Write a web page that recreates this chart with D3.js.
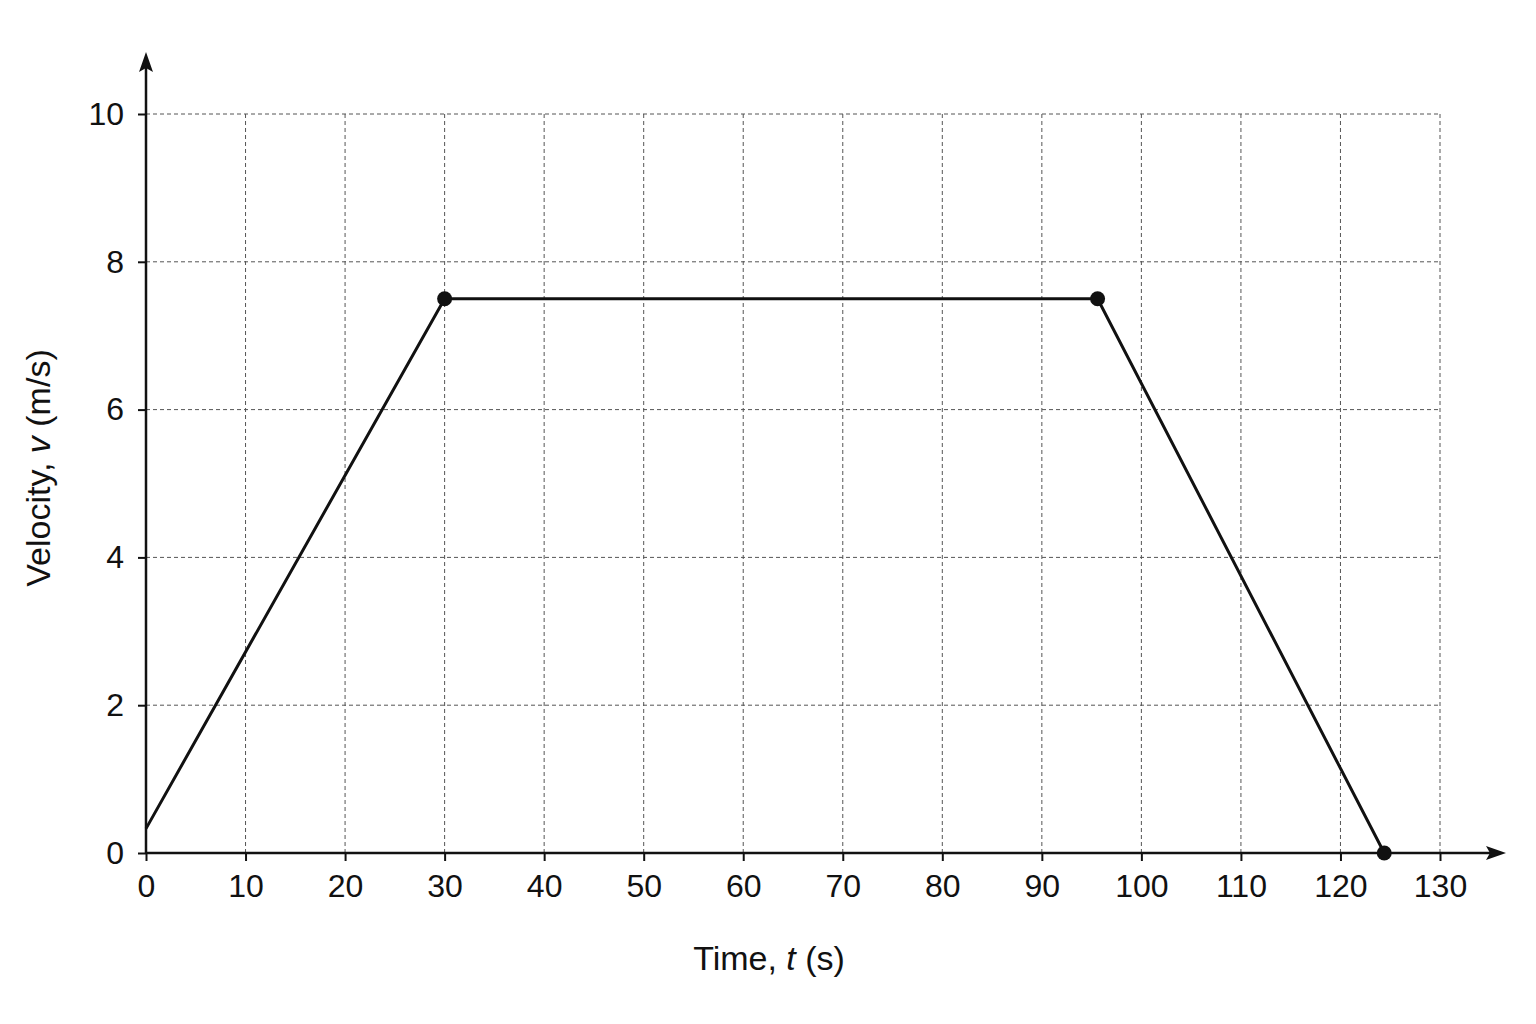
<!DOCTYPE html>
<html><head><meta charset="utf-8">
<script src="https://cdn.jsdelivr.net/npm/d3@7"></script>
<style>body{margin:0;background:#fff}</style></head>
<body><svg id="c" width="1536" height="1024"></svg>
<script>
const xTicks=[0,10,20,30,40,50,60,70,80,90,100,110,120,130];
const yTicks=[0,2,4,6,8,10];
const times=[0,30,95.6,124.4];
const velocities=[0.33,7.5,7.5,0];
const markerIdx=[1,2,3];

const svg=d3.select("#c");
const x=d3.scaleLinear().domain([0,130]).range([146,1440]);
const y=d3.scaleLinear().domain([0,10]).range([853,114]);
const font="Liberation Sans, Arial, sans-serif";

const g=svg.append("g");
g.selectAll(".vg").data(xTicks.slice(1)).join("line")
 .attr("x1",d=>x(d)).attr("x2",d=>x(d)).attr("y1",y(0)).attr("y2",y(10))
 .attr("stroke","#555").attr("stroke-width",1).attr("stroke-dasharray","4,3");
g.selectAll(".hg").data(yTicks.slice(1)).join("line")
 .attr("x1",x(0)).attr("x2",x(130)).attr("y1",d=>y(d)).attr("y2",d=>y(d))
 .attr("stroke","#555").attr("stroke-width",1).attr("stroke-dasharray","4,3");

const xa=svg.append("g").attr("transform",`translate(0,${y(0)})`)
 .call(d3.axisBottom(x).tickValues(xTicks).tickSize(8).tickPadding(10).tickSizeOuter(0));
xa.select(".domain").remove();
xa.selectAll("text").attr("font-size",32).attr("font-family",font).attr("fill","#111").attr("dy","0.8em");
xa.selectAll("line").attr("stroke","#111").attr("stroke-width",2);
const ya=svg.append("g").attr("transform",`translate(${x(0)},0)`)
 .call(d3.axisLeft(y).tickValues(yTicks).tickSize(8).tickPadding(14).tickSizeOuter(0));
ya.select(".domain").remove();
ya.selectAll("text").attr("font-size",32).attr("font-family",font).attr("fill","#111");
ya.selectAll("line").attr("stroke","#111").attr("stroke-width",2);

svg.append("line").attr("x1",x(0)).attr("x2",1495).attr("y1",y(0)).attr("y2",y(0)).attr("stroke","#111").attr("stroke-width",2.5);
svg.append("line").attr("x1",x(0)).attr("x2",x(0)).attr("y1",y(0)).attr("y2",62).attr("stroke","#111").attr("stroke-width",2.5);
svg.append("path").attr("d",`M1506,${y(0)} L1486,${y(0)-7} L1490,${y(0)} L1486,${y(0)+7}Z`).attr("fill","#111");
svg.append("path").attr("d",`M${x(0)},52 L${x(0)-7},72 L${x(0)},68 L${x(0)+7},72Z`).attr("fill","#111");

const pts=times.map((t,i)=>[t,velocities[i]]);
svg.append("path").datum(pts).attr("d",d3.line().x(d=>x(d[0])).y(d=>y(d[1])))
 .attr("fill","none").attr("stroke","#111").attr("stroke-width",3);
svg.selectAll(".pt").data(markerIdx.map(i=>pts[i])).join("circle")
 .attr("cx",d=>x(d[0])).attr("cy",d=>y(d[1])).attr("r",7.5).attr("fill","#111");

const xl=svg.append("text").attr("x",769).attr("y",970).attr("text-anchor","middle")
 .attr("font-size",34).attr("font-family",font).attr("fill","#111");
xl.append("tspan").text("Time, ");xl.append("tspan").attr("font-style","italic").text("t");xl.append("tspan").text(" (s)");
const yl=svg.append("text").attr("transform","translate(50,468) rotate(-90)").attr("text-anchor","middle")
 .attr("font-size",34).attr("font-family",font).attr("fill","#111");
yl.append("tspan").text("Velocity, ");yl.append("tspan").attr("font-style","italic").text("v");yl.append("tspan").text(" (m/s)");
</script></body></html>
